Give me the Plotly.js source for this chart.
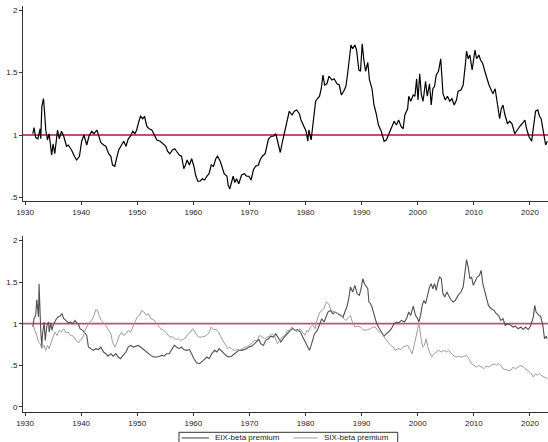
<!DOCTYPE html>
<html>
<head>
<meta charset="utf-8">
<script src="https://cdn.plot.ly/plotly-3.0.1.min.js"></script>
<style>
  html, body { margin: 0; padding: 0; background: #ffffff; }
  #chart { width: 548px; height: 442px; }
</style>
</head>
<body>
<div id="chart"></div>
<script>
// Beta premium (top panel)
const topYears = [
  1931.4, 1931.6, 1931.9, 1932.3, 1932.7, 1932.8, 1933.0, 1933.3, 1933.5, 1933.7,
  1934.0, 1934.3, 1934.75, 1935.0, 1935.3, 1935.8, 1936.1, 1936.5, 1936.9, 1937.4,
  1937.7, 1938.3, 1938.8, 1939.2, 1939.7, 1940.1, 1940.5, 1941.0, 1941.4, 1941.9,
  1942.3, 1942.8, 1943.1, 1943.5, 1944.0, 1944.4, 1944.9, 1945.3, 1945.6, 1946.0,
  1946.3, 1946.7, 1947.2, 1947.6, 1948.0, 1948.4, 1948.8, 1949.2, 1949.6, 1949.9,
  1950.3, 1950.6, 1951.0, 1951.3, 1951.7, 1952.1, 1952.6, 1953.0, 1953.5, 1954.1,
  1954.7, 1955.1, 1955.4, 1955.8, 1956.3, 1956.7, 1957.0, 1957.5, 1957.9, 1958.3,
  1958.6, 1958.9, 1959.3, 1959.7, 1960.1, 1960.4, 1960.8, 1961.2, 1961.6, 1962.0,
  1962.4, 1962.8, 1963.2, 1963.6, 1964.0, 1964.3, 1964.8, 1965.2, 1965.5, 1966.0,
  1966.2, 1966.5, 1966.8, 1967.1, 1967.4, 1967.7, 1968.1, 1968.6, 1969.1, 1969.5,
  1969.9, 1970.3, 1970.7, 1971.1, 1971.6, 1971.9, 1972.3, 1972.8, 1973.1, 1973.4,
  1973.9, 1974.3, 1974.7, 1975.1, 1975.5, 1975.9, 1976.3, 1976.7, 1977.1, 1977.6,
  1978.0, 1978.4, 1978.9, 1979.2, 1979.7, 1980.1, 1980.4, 1980.6, 1981.0, 1981.2,
  1981.5, 1981.8, 1982.1, 1982.5, 1982.8, 1983.1, 1983.4, 1983.8, 1984.2, 1984.7,
  1985.1, 1985.6, 1986.0, 1986.4, 1986.8, 1987.2, 1987.5, 1987.8, 1988.1, 1988.4,
  1988.8, 1989.1, 1989.5, 1989.8, 1990.1, 1990.4, 1990.7, 1991.1, 1991.4, 1991.85,
  1992.2, 1992.6, 1993.0, 1993.5, 1994.0, 1994.4, 1994.8, 1995.3, 1995.8, 1996.2,
  1996.6, 1997.0, 1997.4, 1997.7, 1998.2, 1998.4, 1998.75, 1999.2, 1999.5, 1999.8,
  2000.05, 2000.35, 2000.65, 2000.95, 2001.4, 2001.7, 2002.1, 2002.4, 2002.7, 2003.0,
  2003.3, 2003.7, 2004.1, 2004.5, 2004.9, 2005.3, 2005.7, 2006.1, 2006.5, 2006.9,
  2007.2, 2007.7, 2008.1, 2008.5, 2008.7, 2009.0, 2009.3, 2009.7, 2009.9, 2010.2,
  2010.5, 2010.9, 2011.2, 2011.6, 2011.9, 2012.3, 2012.7, 2013.0, 2013.4, 2013.8,
  2014.2, 2014.6, 2014.9, 2015.2, 2015.5, 2016.0, 2016.4, 2016.8, 2017.3, 2017.8,
  2018.2, 2018.6, 2019.1, 2019.4, 2019.8, 2020.3, 2020.7, 2021.0, 2021.4, 2021.7,
  2022.0, 2022.5, 2022.8, 2023.1
];
const topValues = [
  1.01, 1.06, 0.98, 0.97, 1.05, 0.97, 1.23, 1.29, 1.17, 1.04,
  0.96, 1.01, 0.84, 0.93, 0.85, 1.04, 0.97, 1.03, 0.99, 0.91,
  0.92, 0.88, 0.83, 0.80, 0.83, 0.95, 1.00, 0.92, 0.99, 1.03,
  1.01, 1.04, 1.00, 0.94, 0.92, 0.91, 0.85, 0.83, 0.76, 0.75,
  0.81, 0.88, 0.92, 0.95, 0.91, 0.97, 0.99, 1.03, 1.01, 1.04,
  1.11, 1.15, 1.13, 1.15, 1.07, 1.05, 1.04, 1.00, 0.96, 0.95,
  0.93, 0.91, 0.87, 0.85, 0.88, 0.89, 0.87, 0.84, 0.83, 0.73,
  0.76, 0.80, 0.76, 0.81, 0.75, 0.68, 0.63, 0.63, 0.65, 0.64,
  0.67, 0.69, 0.76, 0.75, 0.81, 0.83, 0.79, 0.73, 0.69, 0.67,
  0.60, 0.57, 0.63, 0.67, 0.62, 0.65, 0.61, 0.68, 0.69, 0.67,
  0.67, 0.64, 0.72, 0.75, 0.76, 0.80, 0.83, 0.85, 0.91, 0.97,
  0.99, 0.99, 1.01, 0.92, 0.86, 0.95, 1.04, 1.13, 1.19, 1.16,
  1.19, 1.20, 1.17, 1.12, 1.07, 1.03, 0.95, 1.04, 0.96, 1.04,
  1.20, 1.27, 1.29, 1.31, 1.37, 1.48, 1.40, 1.41, 1.47, 1.44,
  1.45, 1.41, 1.40, 1.32, 1.35, 1.39, 1.49, 1.59, 1.72, 1.69,
  1.72, 1.68, 1.52, 1.51, 1.73, 1.60, 1.51, 1.58, 1.44, 1.37,
  1.24, 1.17, 1.08, 1.03, 0.95, 0.96, 1.00, 1.05, 1.11, 1.08,
  1.12, 1.07, 1.05, 1.16, 1.21, 1.31, 1.27, 1.32, 1.31, 1.45,
  1.28, 1.49, 1.32, 1.27, 1.43, 1.31, 1.41, 1.24, 1.37, 1.39,
  1.48, 1.51, 1.61, 1.33, 1.28, 1.31, 1.27, 1.29, 1.24, 1.28,
  1.35, 1.36, 1.40, 1.57, 1.67, 1.61, 1.64, 1.52, 1.59, 1.68,
  1.61, 1.64, 1.60, 1.57, 1.52, 1.45, 1.40, 1.37, 1.33, 1.37,
  1.24, 1.13, 1.21, 1.24, 1.17, 1.09, 1.11, 1.09, 1.01, 1.05,
  1.07, 1.09, 1.12, 1.05, 0.99, 0.95, 1.07, 1.19, 1.20, 1.15,
  1.13, 1.01, 0.92, 0.95
];

// EIX-beta premium (bottom panel, dark)
const eixYears = [
  1931.4, 1931.6, 1931.9, 1932.1, 1932.4, 1932.5, 1932.8, 1933.0, 1933.1, 1933.4,
  1933.6, 1933.9, 1934.2, 1934.3, 1934.6, 1934.8, 1935.0, 1935.3, 1935.6, 1935.9,
  1936.2, 1936.6, 1936.9, 1937.3, 1937.7, 1938.1, 1938.5, 1938.9, 1939.2, 1939.5,
  1939.8, 1940.3, 1940.7, 1941.0, 1941.3, 1941.7, 1942.2, 1942.6, 1943.1, 1943.5,
  1944.0, 1944.4, 1944.8, 1945.3, 1945.7, 1946.2, 1946.6, 1947.0, 1947.5, 1948.0,
  1948.4, 1948.8, 1949.3, 1949.8, 1950.2, 1950.6, 1951.1, 1951.6, 1952.0, 1952.4,
  1952.9, 1953.5, 1954.0, 1954.4, 1954.8, 1955.2, 1955.7, 1956.1, 1956.6, 1957.0,
  1957.5, 1957.9, 1958.3, 1958.8, 1959.3, 1959.7, 1960.1, 1960.6, 1961.1, 1961.8,
  1962.4, 1962.8, 1963.3, 1963.8, 1964.2, 1964.6, 1965.1, 1965.5, 1966.0, 1966.4,
  1966.8, 1967.3, 1967.7, 1968.1, 1968.6, 1969.1, 1969.5, 1969.9, 1970.4, 1970.9,
  1971.3, 1971.7, 1972.0, 1972.5, 1972.9, 1973.4, 1973.8, 1974.3, 1974.7, 1975.1,
  1975.6, 1976.0, 1976.4, 1976.9, 1977.4, 1977.8, 1978.2, 1978.6, 1979.1, 1979.5,
  1979.9, 1980.3, 1980.7, 1981.0, 1981.3, 1981.6, 1982.1, 1982.5, 1982.9, 1983.3,
  1983.7, 1984.0, 1984.4, 1984.9, 1985.3, 1985.8, 1986.2, 1986.7, 1987.0, 1987.4,
  1987.7, 1988.0, 1988.4, 1988.8, 1989.2, 1989.6, 1989.9, 1990.2, 1990.5, 1990.8,
  1991.1, 1991.3, 1991.6, 1991.85, 1992.2, 1992.6, 1993.0, 1993.5, 1994.0, 1994.4,
  1994.8, 1995.3, 1995.8, 1996.2, 1996.6, 1997.1, 1997.6, 1998.0, 1998.4, 1998.75,
  1999.2, 1999.6, 2000.0, 2000.2, 2000.5, 2000.8, 2001.1, 2001.4, 2001.7, 2002.1,
  2002.4, 2002.7, 2003.0, 2003.3, 2003.6, 2003.9, 2004.2, 2004.5, 2004.8, 2005.2,
  2005.5, 2005.9, 2006.3, 2006.7, 2007.2, 2007.7, 2008.1, 2008.4, 2008.7, 2009.0,
  2009.3, 2009.6, 2009.9, 2010.3, 2010.6, 2011.0, 2011.3, 2011.6, 2011.9, 2012.2,
  2012.6, 2013.1, 2013.6, 2014.0, 2014.4, 2014.8, 2015.2, 2015.6, 2016.1, 2016.6,
  2017.0, 2017.4, 2017.9, 2018.4, 2018.8, 2019.2, 2019.7, 2020.1, 2020.6, 2020.85,
  2021.1, 2021.6, 2021.9, 2022.3, 2022.6, 2022.9, 2023.1
];
const eixValues = [
  0.96, 1.06, 1.10, 1.29, 1.08, 1.48, 0.92, 0.72, 0.86, 1.02,
  0.80, 0.98, 1.02, 0.90, 1.01, 0.92, 0.98, 1.02, 1.06, 1.08,
  1.09, 1.12, 1.06, 1.04, 1.01, 1.02, 1.00, 1.04, 1.01, 1.00,
  0.94, 0.92, 0.88, 0.86, 0.72, 0.70, 0.68, 0.70, 0.69, 0.72,
  0.66, 0.64, 0.61, 0.64, 0.61, 0.64, 0.60, 0.58, 0.62, 0.66,
  0.72, 0.74, 0.72, 0.73, 0.74, 0.72, 0.69, 0.66, 0.64, 0.62,
  0.60, 0.60, 0.61, 0.62, 0.61, 0.64, 0.64, 0.68, 0.74, 0.72,
  0.70, 0.72, 0.69, 0.68, 0.69, 0.64, 0.58, 0.53, 0.52, 0.56,
  0.60, 0.58, 0.64, 0.68, 0.66, 0.70, 0.66, 0.64, 0.61, 0.60,
  0.61, 0.64, 0.66, 0.68, 0.68, 0.69, 0.70, 0.72, 0.73, 0.76,
  0.78, 0.81, 0.76, 0.74, 0.80, 0.82, 0.85, 0.84, 0.88, 0.84,
  0.78, 0.82, 0.85, 0.89, 0.93, 0.94, 0.92, 0.93, 0.90, 0.84,
  0.78, 0.72, 0.68, 0.74, 0.82, 0.88, 0.92, 0.98, 1.06, 1.02,
  1.08, 1.14, 1.16, 1.12, 1.14, 1.12, 1.10, 1.08, 1.14, 1.21,
  1.30, 1.44, 1.38, 1.46, 1.36, 1.34, 1.42, 1.54, 1.48, 1.44,
  1.42, 1.26, 1.24, 1.20, 1.10, 1.02, 0.96, 0.90, 0.85, 0.88,
  0.90, 0.94, 1.00, 1.02, 1.01, 1.04, 1.02, 1.06, 1.14, 1.10,
  1.21, 1.10, 1.06, 1.02, 1.10, 1.22, 1.28, 1.24, 1.32, 1.44,
  1.48, 1.42, 1.48, 1.40, 1.50, 1.56, 1.54, 1.36, 1.32, 1.38,
  1.34, 1.29, 1.26, 1.28, 1.34, 1.38, 1.44, 1.64, 1.77, 1.68,
  1.54, 1.56, 1.46, 1.52, 1.56, 1.58, 1.64, 1.48, 1.40, 1.30,
  1.22, 1.18, 1.16, 1.12, 1.10, 1.04, 1.06, 0.98, 1.00, 0.98,
  0.96, 0.97, 0.94, 0.96, 0.93, 0.96, 0.93, 0.97, 1.08, 1.22,
  1.14, 1.10, 1.09, 0.98, 0.82, 0.85, 0.82
];

// SIX-beta premium (bottom panel, light)
const sixYears = [
  1931.4, 1931.8, 1932.1, 1932.4, 1932.7, 1933.0, 1933.4, 1933.7, 1934.0, 1934.3,
  1934.7, 1935.0, 1935.3, 1935.7, 1936.1, 1936.5, 1936.9, 1937.3, 1937.7, 1938.1,
  1938.6, 1939.1, 1939.5, 1939.9, 1940.4, 1940.7, 1941.1, 1941.5, 1941.9, 1942.3,
  1942.6, 1942.9, 1943.2, 1943.6, 1944.1, 1944.4, 1944.9, 1945.3, 1945.6, 1946.0,
  1946.3, 1946.7, 1947.2, 1947.6, 1948.0, 1948.4, 1948.8, 1949.2, 1949.6, 1950.0,
  1950.4, 1950.8, 1951.2, 1951.6, 1952.0, 1952.4, 1952.9, 1953.3, 1953.8, 1954.2,
  1954.7, 1955.1, 1955.5, 1956.0, 1956.4, 1956.9, 1957.3, 1957.7, 1958.2, 1958.7,
  1959.1, 1959.5, 1959.9, 1960.3, 1960.9, 1961.5, 1962.1, 1962.7, 1963.2, 1963.6,
  1964.0, 1964.5, 1964.9, 1965.4, 1965.8, 1966.1, 1966.5, 1966.9, 1967.4, 1967.9,
  1968.3, 1968.7, 1969.2, 1969.6, 1970.0, 1970.5, 1970.9, 1971.4, 1971.8, 1972.2,
  1972.7, 1973.2, 1973.6, 1974.0, 1974.5, 1975.0, 1975.4, 1975.8, 1976.3, 1976.8,
  1977.2, 1977.6, 1978.1, 1978.6, 1979.0, 1979.4, 1979.9, 1980.2, 1980.5, 1980.9,
  1981.3, 1981.7, 1982.2, 1982.6, 1982.9, 1983.3, 1983.7, 1984.1, 1984.6, 1985.1,
  1985.5, 1985.9, 1986.4, 1986.8, 1987.2, 1987.7, 1988.0, 1988.4, 1988.8, 1989.3,
  1989.8, 1990.2, 1990.6, 1991.1, 1991.6, 1992.0, 1992.4, 1992.9, 1993.4, 1993.8,
  1994.2, 1994.7, 1995.2, 1995.6, 1996.0, 1996.5, 1997.0, 1997.4, 1997.8, 1998.2,
  1998.6, 1999.0, 1999.3, 1999.6, 2000.0, 2000.2, 2000.4, 2000.65, 2000.9, 2001.2,
  2001.5, 2001.8, 2002.2, 2002.5, 2002.9, 2003.3, 2003.7, 2004.2, 2004.7, 2005.1,
  2005.5, 2006.0, 2006.5, 2006.9, 2007.3, 2007.8, 2008.3, 2008.7, 2009.1, 2009.6,
  2010.0, 2010.5, 2010.9, 2011.3, 2011.8, 2012.2, 2012.6, 2013.1, 2013.6, 2014.0,
  2014.4, 2014.8, 2015.2, 2015.6, 2016.1, 2016.6, 2017.0, 2017.4, 2017.9, 2018.4,
  2018.8, 2019.2, 2019.7, 2020.1, 2020.6, 2021.0, 2021.3, 2021.7, 2022.2, 2022.6,
  2023.1
];
const sixValues = [
  0.98, 0.92, 0.86, 0.78, 0.76, 0.70, 0.74, 0.68, 0.74, 0.70,
  0.78, 0.84, 0.90, 0.86, 0.92, 0.90, 0.94, 0.89, 0.90, 0.86,
  0.85, 0.80, 0.77, 0.80, 0.85, 0.92, 0.98, 1.02, 1.04, 1.10,
  1.17, 1.16, 1.10, 1.04, 1.00, 0.98, 0.92, 0.88, 0.78, 0.72,
  0.76, 0.84, 0.90, 0.86, 0.88, 0.92, 0.90, 0.96, 1.02, 1.08,
  1.10, 1.16, 1.14, 1.10, 1.12, 1.06, 1.05, 1.02, 0.97, 0.94,
  0.92, 0.90, 0.86, 0.84, 0.84, 0.81, 0.82, 0.80, 0.81, 0.84,
  0.88, 0.90, 0.94, 0.90, 0.84, 0.84, 0.85, 0.88, 0.96, 0.93,
  0.93, 0.90, 0.84, 0.78, 0.74, 0.70, 0.72, 0.69, 0.68, 0.69,
  0.68, 0.70, 0.72, 0.72, 0.74, 0.77, 0.80, 0.80, 0.86, 0.84,
  0.82, 0.84, 0.85, 0.88, 0.85, 0.76, 0.80, 0.84, 0.86, 0.92,
  0.92, 0.96, 0.92, 0.90, 0.94, 0.90, 0.86, 0.92, 0.90, 0.96,
  0.98, 0.94, 1.08, 1.14, 1.16, 1.18, 1.26, 1.24, 1.16, 1.14,
  1.13, 1.12, 1.10, 1.06, 1.04, 1.08, 1.10, 1.01, 0.96, 0.97,
  0.96, 0.93, 0.92, 0.93, 0.94, 0.96, 0.96, 0.92, 0.90, 0.86,
  0.82, 0.78, 0.74, 0.72, 0.68, 0.70, 0.69, 0.72, 0.73, 0.74,
  0.69, 0.64, 0.72, 0.80, 0.94, 1.01, 0.90, 0.80, 0.72, 0.74,
  0.82, 0.72, 0.64, 0.60, 0.64, 0.66, 0.68, 0.66, 0.68, 0.66,
  0.68, 0.64, 0.61, 0.60, 0.61, 0.60, 0.61, 0.62, 0.58, 0.52,
  0.50, 0.48, 0.50, 0.48, 0.46, 0.49, 0.48, 0.50, 0.52, 0.50,
  0.52, 0.50, 0.46, 0.45, 0.44, 0.44, 0.48, 0.46, 0.48, 0.50,
  0.48, 0.46, 0.44, 0.41, 0.36, 0.40, 0.38, 0.40, 0.37, 0.36,
  0.34
];

// Axis ticks and series labels
const yearTicks = [1930, 1940, 1950, 1960, 1970, 1980, 1990, 2000, 2010, 2020];
const topTickVals = [0.5, 1, 1.5, 2];
const topTickText = ['.5', '1', '1.5', '2'];
const bottomTickVals = [0, 0.5, 1, 1.5, 2];
const bottomTickText = ['0', '.5', '1', '1.5', '2'];
const seriesNames = ['EIX-beta premium', 'SIX-beta premium'];
const referenceLevel = 1;

const FONT = 'Liberation Sans, Arial, Helvetica, sans-serif';
const AXIS_COLOR = '#333333';
const REF_COLOR = '#c4506c';
const EIX_COLOR = '#505050';
const SIX_COLOR = '#9c9c9c';

const traces = [
  {
    x: topYears, y: topValues, xaxis: 'x', yaxis: 'y',
    type: 'scatter', mode: 'lines', showlegend: false,
    line: { color: '#000000', width: 1.2 }
  },
  {
    x: eixYears, y: eixValues, xaxis: 'x2', yaxis: 'y2',
    type: 'scatter', mode: 'lines', name: seriesNames[0], showlegend: false,
    line: { color: EIX_COLOR, width: 1.1 }
  },
  {
    x: sixYears, y: sixValues, xaxis: 'x2', yaxis: 'y2',
    type: 'scatter', mode: 'lines', name: seriesNames[1], showlegend: false,
    line: { color: SIX_COLOR, width: 1.0 }
  }
];

const xBase = {
  range: [1929.64, 2023.22],
  tickvals: yearTicks,
  ticks: 'outside', ticklen: 3, tickwidth: 1, tickcolor: AXIS_COLOR,
  showline: true, linecolor: AXIS_COLOR, linewidth: 1,
  showgrid: false, zeroline: false,
  tickfont: { family: FONT, size: 8, color: '#222222' }
};
const yBase = {
  ticks: 'outside', ticklen: 3, tickwidth: 1, tickcolor: AXIS_COLOR,
  showline: true, linecolor: AXIS_COLOR, linewidth: 1,
  showgrid: false, zeroline: false,
  tickfont: { family: FONT, size: 8, color: '#222222' }
};

// Legend key below the lower panel (paper coordinates), clipped by the page edge
const KEY_TOP = -0.05, KEY_BOTTOM = -0.095, KEY_ROW = -0.064;
const keyBox = { type: 'rect', xref: 'paper', yref: 'paper',
  x0: 0.2971, x1: 0.7137, y0: KEY_BOTTOM, y1: KEY_TOP,
  line: { color: AXIS_COLOR, width: 1 }, fillcolor: '#ffffff' };
const keyItems = [
  { color: EIX_COLOR, width: 1.1, x0: 0.3023, x1: 0.3543, tx: 0.3638 },
  { color: SIX_COLOR, width: 1.0, x0: 0.5143, x1: 0.5619, tx: 0.5714 }
];
const keyShapes = keyItems.map(k => ({ type: 'line', xref: 'paper', yref: 'paper',
  x0: k.x0, x1: k.x1, y0: KEY_ROW, y1: KEY_ROW, line: { color: k.color, width: k.width } }));
const keyLabels = keyItems.map((k, i) => ({ xref: 'paper', yref: 'paper',
  x: k.tx, y: KEY_ROW, xanchor: 'left', yanchor: 'middle', showarrow: false,
  borderpad: 0, text: seriesNames[i],
  font: { family: FONT, size: 8, color: '#222222' } }));

const layout = {
  width: 548, height: 442,
  margin: { l: 23, r: 0, t: 6, b: 30, pad: 0, autoexpand: false },
  paper_bgcolor: '#ffffff', plot_bgcolor: '#ffffff',
  showlegend: false,
  xaxis: Object.assign({}, xBase, { domain: [0, 1], anchor: 'y' }),
  yaxis: Object.assign({}, yBase, {
    domain: [0.5197, 1], anchor: 'x', range: [0.472, 2.032],
    tickvals: topTickVals, ticktext: topTickText
  }),
  xaxis2: Object.assign({}, xBase, { domain: [0, 1], anchor: 'y2' }),
  yaxis2: Object.assign({}, yBase, {
    domain: [0, 0.4335], anchor: 'x2', range: [-0.06, 2.053],
    tickvals: bottomTickVals, ticktext: bottomTickText
  }),
  shapes: [
    { type: 'line', xref: 'x domain', yref: 'y', x0: 0, x1: 1,
      y0: referenceLevel, y1: referenceLevel, layer: 'below',
      line: { color: REF_COLOR, width: 1.8 } },
    { type: 'line', xref: 'x2 domain', yref: 'y2', x0: 0, x1: 1,
      y0: referenceLevel, y1: referenceLevel, layer: 'below',
      line: { color: REF_COLOR, width: 1.8 } },
    keyBox
  ].concat(keyShapes),
  annotations: keyLabels
};

Plotly.newPlot('chart', traces, layout, { staticPlot: true, displayModeBar: false });
</script>
</body>
</html>
